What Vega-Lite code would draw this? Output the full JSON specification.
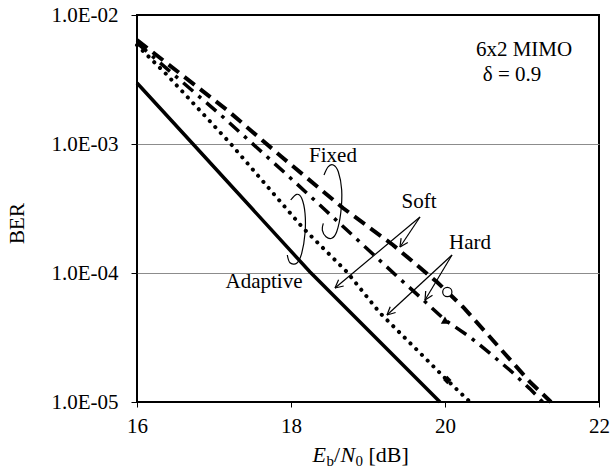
{
  "$schema": "https://vega.github.io/schema/vega-lite/v6.json",
  "width": 462,
  "height": 387,
  "autosize": {"type": "none"},
  "padding": {"left": 137, "top": 15, "right": 12, "bottom": 69},
  "background": "white",
  "config": {
    "font": "Liberation Serif",
    "view": {"stroke": "black", "strokeWidth": 2},
    "axis": {
      "labelFont": "Liberation Serif", "titleFont": "Liberation Serif",
      "labelFontSize": 21, "titleFontSize": 21, "labelColor": "black", "titleColor": "black",
      "titleFontWeight": "normal", "domainColor": "black", "tickColor": "black", "domainWidth": 2
    }
  },
  "datasets": {
    "curves": [
      {"s": "AS", "x": 16, "y": 0.00297}, {"s": "AS", "x": 16.727, "y": 0.001}, {"s": "AS", "x": 18.247, "y": 0.0001018}, {"s": "AS", "x": 19.935, "y": 0.00001},
      {"s": "AH", "x": 16, "y": 0.00585}, {"s": "AH", "x": 16.39, "y": 0.00343}, {"s": "AH", "x": 17.208, "y": 0.001018}, {"s": "AH", "x": 18.156, "y": 0.0002233}, {"s": "AH", "x": 18.727, "y": 0.0001018}, {"s": "AH", "x": 19.156, "y": 0.000049}, {"s": "AH", "x": 20.026, "y": 0.00001481}, {"s": "AH", "x": 20.325, "y": 0.00001},
      {"s": "FS", "x": 16, "y": 0.0064}, {"s": "FS", "x": 17.169, "y": 0.001835}, {"s": "FS", "x": 17.896, "y": 0.000779}, {"s": "FS", "x": 18.675, "y": 0.000319}, {"s": "FS", "x": 19.325, "y": 0.0001649}, {"s": "FS", "x": 19.896, "y": 0.0000851}, {"s": "FS", "x": 20.234, "y": 0.0000545}, {"s": "FS", "x": 20.584, "y": 0.0000319}, {"s": "FS", "x": 21.104, "y": 0.00001429}, {"s": "FS", "x": 21.377, "y": 0.00001},
      {"s": "FH", "x": 16, "y": 0.00607}, {"s": "FH", "x": 17.117, "y": 0.001619}, {"s": "FH", "x": 17.922, "y": 0.000596}, {"s": "FH", "x": 18.416, "y": 0.000319}, {"s": "FH", "x": 18.922, "y": 0.0001678}, {"s": "FH", "x": 19.416, "y": 0.0000898}, {"s": "FH", "x": 19.675, "y": 0.0000652}, {"s": "FH", "x": 20.0, "y": 0.0000432}, {"s": "FH", "x": 20.325, "y": 0.0000319}, {"s": "FH", "x": 20.61, "y": 0.00002313}, {"s": "FH", "x": 20.87, "y": 0.00001708}, {"s": "FH", "x": 21.1, "y": 0.0000127}, {"s": "FH", "x": 21.27, "y": 0.00001}
    ],
    "ell": [
      {"e": "A", "o": 1, "x": 17.996, "y": 0.000368}, {"e": "A", "o": 2, "x": 18.074, "y": 0.0004074}, {"e": "A", "o": 3, "x": 18.139, "y": 0.0003794}, {"e": "A", "o": 4, "x": 18.182, "y": 0.0002903}, {"e": "A", "o": 5, "x": 18.182, "y": 0.0002031}, {"e": "A", "o": 6, "x": 18.139, "y": 0.0001421}, {"e": "A", "o": 7, "x": 18.074, "y": 0.0001189}, {"e": "A", "o": 8, "x": 17.987, "y": 0.0001202}, {"e": "A", "o": 9, "x": 17.952, "y": 0.0001379},
      {"e": "F", "o": 1, "x": 18.4286, "y": 0.000575}, {"e": "F", "o": 2, "x": 18.4844, "y": 0.000667}, {"e": "F", "o": 3, "x": 18.5494, "y": 0.0006875}, {"e": "F", "o": 4, "x": 18.6143, "y": 0.0006099}, {"e": "F", "o": 5, "x": 18.6584, "y": 0.0004396}, {"e": "F", "o": 6, "x": 18.6455, "y": 0.0002903}, {"e": "F", "o": 7, "x": 18.5935, "y": 0.000209}, {"e": "F", "o": 8, "x": 18.5286, "y": 0.0001858}, {"e": "F", "o": 9, "x": 18.4545, "y": 0.0001912}, {"e": "F", "o": 10, "x": 18.4065, "y": 0.0002154}, {"e": "F", "o": 11, "x": 18.4195, "y": 0.0002427}
    ],
    "arrows": [
      {"x": 19.6753, "y": 0.0002716, "x2": 19.4156, "y2": 0.0001591},
      {"x": 19.5169, "y": 0.0001724, "x2": 19.4156, "y2": 0.0001591},
      {"x": 19.4299, "y": 0.0001864, "x2": 19.4156, "y2": 0.0001591},
      {"x": 19.6753, "y": 0.0002716, "x2": 18.5714, "y2": 0.00007653},
      {"x": 18.6844, "y": 0.0000793, "x2": 18.5714, "y2": 0.00007653},
      {"x": 18.6182, "y": 0.00008857, "x2": 18.5714, "y2": 0.00007653},
      {"x": 20.0909, "y": 0.0001379, "x2": 19.7403, "y2": 0.00006178},
      {"x": 19.8377, "y": 0.00006729, "x2": 19.7403, "y2": 0.00006178},
      {"x": 19.7494, "y": 0.00007249, "x2": 19.7403, "y2": 0.00006178},
      {"x": 20.0909, "y": 0.0001379, "x2": 19.2468, "y2": 0.00004726},
      {"x": 19.3584, "y": 0.00004941, "x2": 19.2468, "y2": 0.00004726},
      {"x": 19.2883, "y": 0.0000548, "x2": 19.2468, "y2": 0.00004726}
    ],
    "markers": [
      {"m": "circle", "x": 20.03, "y": 0.0000713},
      {"m": "triangle-up", "x": 20.0, "y": 0.0000432},
      {"m": "diamond", "x": 20.03, "y": 0.00001481}
    ],
    "labels": [
      {"t": "Fixed", "x": 18.545, "y": 0.000807},
      {"t": "Soft", "x": 19.662, "y": 0.000355},
      {"t": "Hard", "x": 20.325, "y": 0.0001708},
      {"t": "Adaptive", "x": 17.649, "y": 0.0000851},
      {"t": "6x2 MIMO", "x": 21.026, "y": 0.00535},
      {"t": "δ = 0.9", "x": 20.87, "y": 0.00343}
    ],
    "titleItalic": [
      {"t": "E", "x": 18.279, "y": 0.000003426},
      {"t": "N", "x": 18.643, "y": 0.000003426}
    ],
    "titleSub": [
      {"t": "b", "x": 18.461, "y": 0.00000319},
      {"t": "0", "x": 18.838, "y": 0.00000319}
    ],
    "titleMain": [
      {"t": "/", "x": 18.558, "y": 0.000003426},
      {"t": "[dB]", "x": 19.006, "y": 0.000003426}
    ]
  },
  "encoding": {
    "x": {
      "field": "x", "type": "quantitative",
      "scale": {"domain": [16, 22], "nice": false, "zero": false},
      "axis": {"values": [16, 18, 20, 22], "grid": false, "tickSize": 5, "labelPadding": 8, "labelFlush": false, "labelOverlap": false, "labelBound": false, "title": null, "domain": false}
    },
    "y": {
      "field": "y", "type": "quantitative",
      "scale": {"type": "log", "domain": [0.00001, 0.01], "nice": false},
      "axis": {
        "values": [0.01, 0.001, 0.0001, 0.00001],
        "grid": true, "gridWidth": 1,
        "gridColor": {"condition": {"test": "datum.value > 0.005 || datum.value < 0.00002", "value": "black"}, "value": "#8c8c8c"},
        "tickSize": 6, "labelPadding": 13, "labelOverlap": false, "labelBound": false, "domain": false,
        "labelExpr": "'1.0E-0' + round(-log(datum.value) / LN10)",
        "title": "BER", "titleAngle": -90, "titleX": -120, "titleY": 208, "titleAlign": "center", "titleBaseline": "middle"
      }
    }
  },
  "layer": [
    {"data": {"name": "curves"}, "transform": [{"filter": "datum.s == 'AS'"}], "mark": {"type": "line", "color": "black", "strokeWidth": 3.5}},
    {"data": {"name": "curves"}, "transform": [{"filter": "datum.s == 'AH'"}], "mark": {"type": "line", "color": "black", "strokeWidth": 4, "strokeCap": "round", "strokeDash": [0.1, 8]}},
    {"data": {"name": "curves"}, "transform": [{"filter": "datum.s == 'FS'"}], "mark": {"type": "line", "color": "black", "strokeWidth": 4, "strokeDash": [13, 7]}},
    {"data": {"name": "curves"}, "transform": [{"filter": "datum.s == 'FH'"}], "mark": {"type": "line", "color": "black", "strokeWidth": 3.5, "strokeDash": [13, 7, 3.5, 7]}},
    {"data": {"name": "ell"}, "mark": {"type": "line", "color": "black", "strokeWidth": 1.2, "interpolate": "cardinal"}, "encoding": {"detail": {"field": "e"}, "order": {"field": "o", "type": "quantitative"}}},
    {"data": {"name": "arrows"}, "mark": {"type": "rule", "color": "black", "strokeWidth": 1.2}, "encoding": {"x2": {"field": "x2"}, "y2": {"field": "y2"}}},
    {"data": {"name": "markers"}, "transform": [{"filter": "datum.m == 'circle'"}], "mark": {"type": "point", "shape": "circle", "size": 85, "filled": true, "fill": "white", "stroke": "black", "strokeWidth": 1.2, "opacity": 1}},
    {"data": {"name": "markers"}, "transform": [{"filter": "datum.m != 'circle'"}], "mark": {"type": "point", "size": 70, "filled": true, "color": "black", "opacity": 1}, "encoding": {"shape": {"field": "m", "type": "nominal", "scale": {"domain": ["triangle-up", "diamond"], "range": ["triangle-up", "diamond"]}, "legend": null}}},
    {"data": {"name": "labels"}, "mark": {"type": "text", "font": "Liberation Serif", "fontSize": 21, "color": "black", "align": "center", "baseline": "middle"}, "encoding": {"text": {"field": "t"}}},
    {"data": {"name": "titleItalic"}, "mark": {"type": "text", "font": "Liberation Serif", "fontSize": 22, "fontStyle": "italic", "color": "black", "align": "left", "baseline": "alphabetic"}, "encoding": {"text": {"field": "t"}}},
    {"data": {"name": "titleSub"}, "mark": {"type": "text", "font": "Liberation Serif", "fontSize": 15, "color": "black", "align": "left", "baseline": "alphabetic"}, "encoding": {"text": {"field": "t"}}},
    {"data": {"name": "titleMain"}, "mark": {"type": "text", "font": "Liberation Serif", "fontSize": 22, "color": "black", "align": "left", "baseline": "alphabetic"}, "encoding": {"text": {"field": "t"}}}
  ]
}
